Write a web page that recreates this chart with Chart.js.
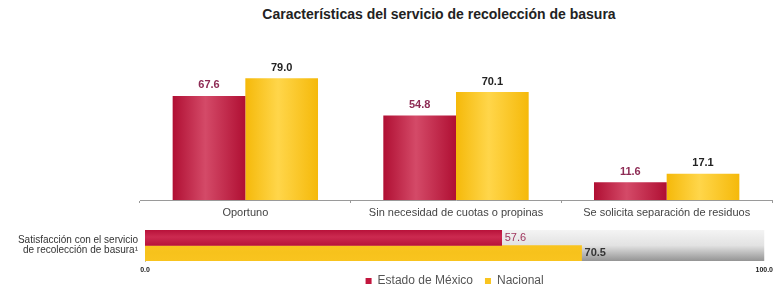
<!DOCTYPE html>
<html>
<head>
<meta charset="utf-8">
<script src="https://cdn.jsdelivr.net/npm/chart.js@4.4.1/dist/chart.umd.min.js"></script>
<style>
  body { margin: 0; background: #fff; font-family: "Liberation Sans", Arial, sans-serif; }
  #wrap { position: relative; width: 778px; height: 287px; overflow: hidden; }
  #titulo { position: absolute; top: 6px; left: 0; width: 878px; text-align: center;
            font-weight: bold; font-size: 14px; color: #222; }
  #top { position: absolute; left: 0; top: 0; }
  #bottom { position: absolute; left: 0; top: 222px; }
</style>
</head>
<body>
<div id="wrap">
  <div id="titulo">Características del servicio de recolección de basura</div>
  <canvas id="top" width="778" height="228"></canvas>
  <canvas id="bottom" width="778" height="87"></canvas>
</div>
<script>
var categorias = ['Oportuno', 'Sin necesidad de cuotas o propinas', 'Se solicita separación de residuos'];
var edomex = [67.6, 54.8, 11.6];
var nacional = [79.0, 70.1, 17.1];

var satisfaccionLabel = [['Satisfacción con el servicio', 'de recolección de basura¹']];
var satisfaccionEdomex = [57.6];
var satisfaccionNacional = [70.5];

var serieNombres = ['Estado de México', 'Nacional'];

var ROJO = '#c2163e';
var AMARILLO = '#f9c41f';
var FUENTE = '"Liberation Sans", Arial, sans-serif';

// gradiente tipo "cilindro" en cada barra
function colorBarras(chart, vertical) {
    var ctx = chart.ctx;
    chart.data.datasets.forEach(function(ds, di) {
        if (!ds.shade) return;
        var meta = chart.getDatasetMeta(di);
        meta.data.forEach(function(el) {
            var g;
            if (vertical) {
                var w = el.width;
                g = ctx.createLinearGradient(el.x - w / 2, 0, el.x + w / 2, 0);
            } else {
                var h = el.height;
                g = ctx.createLinearGradient(0, el.y - h / 2, 0, el.y + h / 2);
            }
            g.addColorStop(0, ds.shade[0]);
            g.addColorStop(0.45, ds.shade[1]);
            g.addColorStop(1, ds.shade[0]);
            el.options.backgroundColor = g;
        });
    });
}

var etiquetasTop = {
    id: 'etiquetasTop',
    beforeDatasetsDraw: function(chart) { colorBarras(chart, true); },
    afterDatasetsDraw: function(chart) {
        var ctx = chart.ctx;
        ctx.save();
        ctx.textAlign = 'center';
        ctx.textBaseline = 'bottom';
        chart.data.datasets.forEach(function(ds, di) {
            var meta = chart.getDatasetMeta(di);
            ctx.font = 'bold 11px ' + FUENTE;
            ctx.fillStyle = di === 0 ? '#8e2c55' : '#222';
            meta.data.forEach(function(el, i) {
                ctx.fillText(ds.data[i].toFixed(1), el.x, el.y - 5);
            });
        });
        ctx.restore();
    }
};

new Chart(document.getElementById('top'), {
    type: 'bar',
    data: {
        labels: categorias,
        datasets: [
            { label: serieNombres[0], data: edomex, backgroundColor: function() { return ROJO; }, shade: ['#b00f33', '#d44a68'] },
            { label: serieNombres[1], data: nacional, backgroundColor: function() { return AMARILLO; }, shade: ['#f5b90a', '#ffd64a'] }
        ]
    },
    options: {
        responsive: false,
        animation: false,
        layout: { padding: { left: 140, right: 6, top: 46, bottom: 0 } },
        datasets: { bar: { categoryPercentage: 0.69, barPercentage: 1 } },
        plugins: { legend: { display: false }, tooltip: { enabled: false } },
        scales: {
            y: { display: false, min: 0, max: 100 },
            x: {
                afterFit: function(s) { s.height = 28; },
                grid: { display: true, drawOnChartArea: false, offset: true, tickLength: 3, color: '#999' },
                border: { display: true, color: '#9a9a9a' },
                ticks: { color: '#444', padding: 3, font: { size: 11, family: FUENTE } }
            }
        }
    },
    plugins: [etiquetasTop]
});

var fondoBottom = {
    id: 'fondoBottom',
    afterLayout: function(chart) {
        // subir la leyenda para que quede pegada a las etiquetas del eje
        var lg = chart.legend;
        var p = lg.options.labels.padding;
        lg.top -= p;
        lg.bottom -= p;
    },
    beforeDatasetsDraw: function(chart) {
        colorBarras(chart, false);
        var ctx = chart.ctx;
        var a = chart.chartArea;
        var x0 = chart.scales.x.getPixelForValue(0);
        var x1 = chart.scales.x.getPixelForValue(100);
        var g = ctx.createLinearGradient(0, a.top, 0, a.bottom);
        g.addColorStop(0, '#f4f4f4');
        g.addColorStop(0.5, '#e2e2e2');
        g.addColorStop(1, '#949494');
        ctx.save();
        ctx.fillStyle = g;
        ctx.fillRect(x0, a.top, x1 - x0, a.bottom - a.top);
        ctx.restore();
    },
    afterDatasetsDraw: function(chart) {
        var ctx = chart.ctx;
        ctx.save();
        ctx.textAlign = 'left';
        ctx.textBaseline = 'middle';
        chart.data.datasets.forEach(function(ds, di) {
            var meta = chart.getDatasetMeta(di);
            ctx.font = (di === 0 ? '' : 'bold ') + '11px ' + FUENTE;
            ctx.fillStyle = di === 0 ? '#a0365e' : '#333';
            meta.data.forEach(function(el, i) {
                ctx.fillText(ds.data[i].toFixed(1), el.x + 3, el.y);
            });
        });
        ctx.restore();
    }
};

new Chart(document.getElementById('bottom'), {
    type: 'bar',
    data: {
        labels: satisfaccionLabel,
        datasets: [
            { label: serieNombres[0], data: satisfaccionEdomex, backgroundColor: function() { return ROJO; }, shade: ['#b8123a', '#cc2a50'] },
            { label: serieNombres[1], data: satisfaccionNacional, backgroundColor: function() { return AMARILLO; }, shade: ['#f9c41f', '#f7c21c'] }
        ]
    },
    options: {
        indexAxis: 'y',
        responsive: false,
        animation: false,
        layout: { padding: { left: 0, right: 8, top: 8, bottom: 0 } },
        datasets: { bar: { categoryPercentage: 1, barPercentage: 1 } },
        plugins: {
            tooltip: { enabled: false },
            legend: {
                position: 'bottom',
                fullSize: false,
                labels: {
                    boxWidth: 6, boxHeight: 6, padding: 12, color: '#555',
                    font: { size: 12, family: FUENTE }
                }
            }
        },
        scales: {
            x: {
                min: 0, max: 100,
                afterFit: function(s) { s.height = 14; },
                grid: { display: false, drawTicks: false },
                border: { display: false },
                ticks: {
                    stepSize: 100, padding: 5, color: '#222',
                    font: { size: 7, weight: 'bold', family: FUENTE },
                    callback: function(v) { return v.toFixed(1); }
                }
            },
            y: {
                afterFit: function(s) { s.width = 145; s.paddingTop = 0; s.paddingBottom = 0; },
                grid: { display: false, drawTicks: false },
                border: { display: true, color: '#bbb' },
                ticks: { color: '#333', padding: 7, font: { size: 10, lineHeight: 1.0, family: FUENTE } }
            }
        }
    },
    plugins: [fondoBottom]
});
</script>
</body>
</html>
